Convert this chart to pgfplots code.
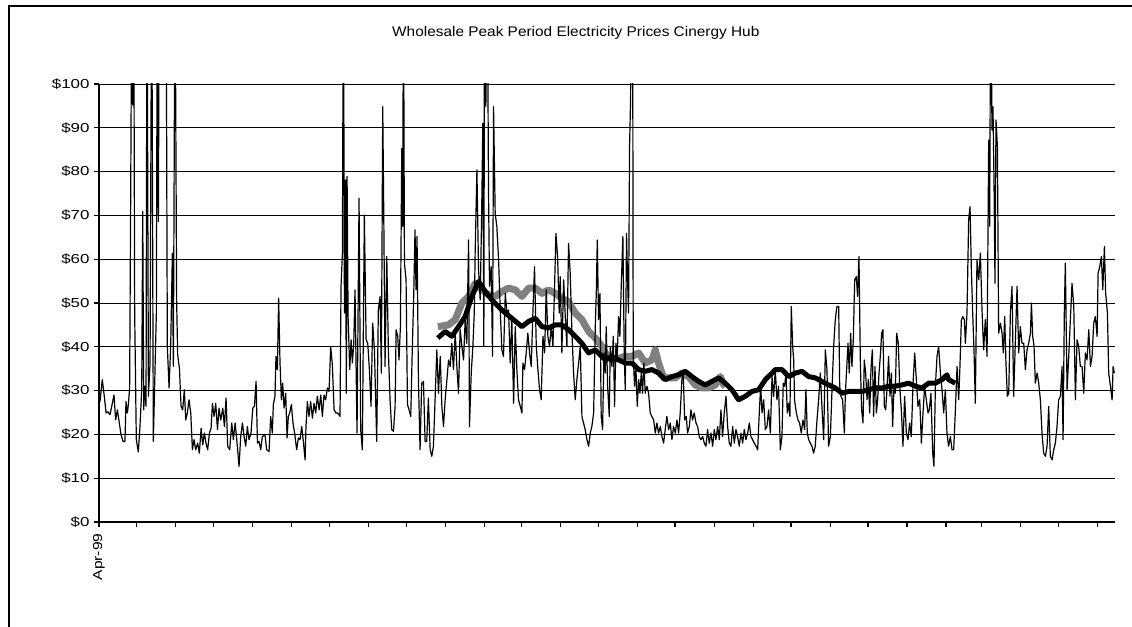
\documentclass[border=0pt]{standalone}
\usepackage{fontspec}
\setmainfont{Liberation Sans}
\usepackage{graphicx}
\usepackage{pgfplots}
\pgfplotsset{compat=1.18}
\usepackage{pgfplotstable}

% daily peak price, x = days since 1 Apr 1999 (values above 100 are off the scale)
\pgfplotstableread{
day price
0 30.5
0.8 27.5
2.6 32.5
4.2 28.7
5.6 24.9
6.9 25.2
8.7 24.5
10.6 27.1
11.9 29.0
13.2 23.3
14.6 25.6
15.9 23.0
17.5 19.9
19.1 18.4
20.6 18.4
21.4 27.5
22.5 24.9
23.3 26.8
24.3 30.6
25.1 72.0
26.1 130
26.7 95.2
27.5 130
28.3 47.7
29.6 18.8
31.2 16.0
32.5 21.8
33.9 30.2
34.7 70.9
35.5 25.6
36.2 31.0
37.3 26.4
38.1 130
39.2 28.7
40.5 36.3
41.8 130
43.1 18.4
44.5 35.5
45.5 47.7
46.3 130
47.1 68.6
47.9 130
49.7 130
51.1 130
53.2 130
54.2 40.1
55.6 30.6
56.9 40.5
58.2 61.4
59.0 35.5
60.3 130
61.6 50.3
62.4 38.2
63.8 35.1
65.1 26.4
66.4 25.6
67.7 30.2
68.8 23.3
70.1 24.9
71.4 27.9
72.8 24.9
74.1 16.5
75.4 18.8
76.7 16.5
78.3 18.0
79.6 15.7
81.0 21.4
82.3 17.6
83.6 20.3
84.9 18.0
86.2 16.5
87.6 20.3
88.9 21.4
90.0 27.1
91.3 24.1
92.6 27.1
94.0 21.1
95.2 26.0
96.6 23.3
98.2 26.0
99.5 21.8
100.8 28.3
102.1 17.3
103.7 16.5
105.3 22.6
106.6 18.8
108.0 22.6
109.3 18.8
111.1 12.7
112.4 19.5
113.8 22.6
115.1 19.5
116.4 17.3
117.7 21.8
119.0 18.8
120.6 20.3
122.0 26.0
123.3 26.4
124.6 32.1
125.7 18.0
127.0 18.4
128.3 16.5
129.6 19.5
131.7 19.9
133.0 16.5
134.9 16.1
136.2 24.1
137.5 20.3
138.3 26.8
139.6 28.7
140.4 37.8
141.5 34.8
142.5 51.1
143.6 36.3
144.7 27.9
145.7 31.7
146.8 26.0
148.1 29.4
149.2 19.2
150.2 24.1
151.3 24.9
152.6 26.8
153.9 22.6
155.2 20.3
156.8 16.5
158.2 19.2
159.5 18.8
160.8 21.8
162.1 18.4
163.5 14.2
164.2 21.8
165.3 27.5
166.6 24.1
167.9 27.5
169.3 23.7
170.6 27.1
171.9 24.9
173.2 28.7
174.6 25.6
175.9 29.0
177.2 24.1
178.5 29.0
179.8 27.9
181.2 30.6
182.5 29.8
183.8 40.1
185.1 35.9
186.5 25.6
188.0 24.9
189.4 24.9
191.2 24.1
192.0 53.8
193.1 61.4
193.9 130
194.7 47.7
195.5 78.1
196.2 29.4
196.8 78.9
197.6 46.9
198.9 34.8
200.0 41.6
201.0 36.3
202.1 40.8
203.1 53.0
204.7 20.3
206.3 73.9
207.6 21.1
208.9 16.5
210.5 70.1
211.9 41.6
213.2 40.8
214.5 34.8
215.8 26.4
217.1 45.4
218.5 39.3
220.3 18.4
221.6 48.4
223.0 51.5
224.0 34.0
225.1 94.8
225.9 70.5
226.9 35.5
228.3 60.6
229.6 38.6
230.9 27.9
232.2 21.1
233.6 20.7
234.9 26.4
235.7 43.9
237.0 42.4
238.0 37.0
239.1 44.6
240.2 85.3
241.0 67.5
241.5 130
242.3 59.1
243.6 55.3
244.7 26.8
246.0 25.6
247.3 24.1
248.4 37.8
249.7 52.2
250.7 66.7
251.5 53.0
252.3 65.2
253.4 32.5
254.7 16.5
256.0 31.7
257.4 32.1
258.7 18.4
260.0 18.4
261.3 28.3
262.7 16.5
264.0 15.0
265.3 17.3
268.0 39.3
269.3 29.4
270.7 37.8
272.0 26.4
273.3 21.8
274.6 27.9
276.0 32.5
277.3 37.0
278.6 35.5
279.9 40.8
281.2 34.8
282.6 43.1
283.9 35.5
285.2 29.4
286.5 43.9
287.9 40.1
289.2 37.0
290.5 46.2
291.8 40.8
293.2 64.4
293.9 21.8
295.3 34.0
296.6 40.1
297.7 47.7
298.4 61.4
299.8 80.4
301.1 57.6
302.4 50.7
303.5 69.0
304.5 91.0
305.3 40.1
305.9 130
306.9 94.8
308.0 130
309.0 75.8
309.8 53.8
311.1 58.3
312.2 37.8
313.0 94.8
314.3 70.5
315.6 67.5
317.0 59.8
318.3 48.4
319.6 39.3
320.9 37.8
322.3 52.2
323.6 47.7
324.9 48.4
326.2 36.3
327.5 46.2
328.9 27.1
330.2 44.6
331.5 34.8
332.8 27.9
334.2 26.4
335.5 24.9
336.3 36.3
337.6 34.8
338.9 38.6
340.2 43.1
341.6 38.6
342.9 35.5
344.2 47.7
345.5 58.3
346.9 40.1
348.2 34.8
349.5 30.2
350.8 27.9
352.2 42.4
353.5 38.6
354.8 53.0
356.1 42.4
357.4 40.1
358.8 44.6
360.1 40.1
361.4 53.8
362.5 65.9
363.8 60.6
365.1 47.7
365.9 56.0
367.2 38.6
368.6 55.3
369.9 46.9
371.2 40.1
372.5 63.6
373.8 56.8
375.2 43.1
376.5 34.0
377.8 27.9
379.1 32.5
380.5 36.3
381.8 40.1
383.1 24.1
384.4 22.6
385.7 21.1
387.1 18.8
388.4 17.3
389.7 20.3
391.0 21.8
392.4 24.9
393.7 44.6
394.5 52.2
395.3 64.4
396.3 46.2
397.4 52.2
398.4 24.1
399.5 21.1
400.6 38.6
401.6 34.0
402.4 44.6
403.5 31.0
404.8 24.1
405.6 40.1
406.9 35.5
408.0 42.4
409.0 26.4
410.1 40.8
411.1 37.8
412.2 46.9
413.2 42.4
414.3 53.8
415.6 65.2
416.7 37.8
417.5 30.2
418.5 65.9
419.3 55.3
420.1 47.7
420.9 85.7
421.7 96.3
422.5 130
423.3 130
423.8 37.8
424.9 31.0
425.9 35.5
427.0 26.4
428.1 32.5
429.1 29.4
430.2 34.0
431.2 29.4
432.3 36.3
433.3 29.4
434.7 31.0
436.0 29.4
437.3 24.9
438.6 24.1
440.0 23.3
441.3 20.3
442.6 22.6
443.9 20.3
445.3 21.8
446.6 19.5
447.9 18.0
449.2 21.1
450.5 24.1
451.9 21.1
453.2 22.6
454.5 18.8
455.8 21.8
457.2 20.3
458.5 23.3
459.8 20.3
461.1 24.9
462.4 32.5
463.5 34.0
464.6 23.3
465.9 24.1
466.9 20.3
468.3 21.8
469.6 25.6
470.9 23.3
472.2 24.9
473.6 22.6
474.9 21.8
476.2 19.5
477.5 18.8
478.9 19.5
480.2 18.0
481.5 17.3
482.8 21.1
484.1 18.0
485.5 20.3
486.8 17.3
488.1 21.1
489.4 18.8
490.8 21.8
492.1 18.8
493.4 25.6
494.7 19.5
496.0 24.9
497.4 28.7
498.7 21.8
500.0 18.0
501.3 17.3
502.7 21.8
504.0 18.0
505.3 21.1
506.6 19.5
507.9 17.3
509.3 20.3
510.6 18.0
511.9 21.1
513.2 18.8
514.6 20.3
515.9 22.6
517.2 19.5
518.5 18.8
519.9 18.0
521.2 17.3
522.5 16.5
523.8 24.9
524.9 31.0
526.0 24.9
527.3 27.9
528.6 21.1
529.9 21.8
531.2 25.6
532.6 20.3
533.9 33.2
535.2 28.7
536.5 34.8
537.8 27.9
539.1 31.0
540.5 16.5
541.8 19.5
542.8 31.7
543.9 31.0
545.0 34.0
546.0 24.9
547.1 27.1
548.1 24.1
549.2 49.2
550.3 40.1
551.1 37.0
551.8 27.9
553.2 24.9
554.5 23.3
555.8 22.6
557.1 20.3
558.5 23.3
559.8 21.1
560.8 30.2
561.9 20.3
563.0 18.8
564.3 18.0
565.6 17.3
566.9 15.7
568.2 17.3
569.6 23.3
570.9 27.9
572.2 34.0
573.5 26.4
574.9 18.8
576.2 39.3
577.5 34.8
578.8 17.3
580.2 19.5
581.5 30.2
582.8 40.1
584.1 46.2
585.4 49.2
586.8 49.2
587.6 31.0
588.6 28.7
589.9 27.9
591.3 20.3
592.1 29.4
593.1 34.8
594.2 40.8
595.2 34.0
596.3 43.1
597.3 35.5
598.4 41.6
599.5 55.3
600.8 56.0
601.8 51.5
602.9 60.6
604.0 36.3
605.0 25.6
606.1 22.6
607.1 37.0
608.2 34.0
609.3 27.9
610.3 32.5
611.4 24.9
612.4 34.8
613.5 39.3
614.5 24.1
615.6 35.5
616.7 24.9
617.7 27.9
618.8 34.0
619.8 37.8
620.9 43.1
621.9 43.9
623.0 26.4
624.1 25.6
625.1 30.2
626.4 37.8
627.5 28.7
628.6 34.0
629.6 21.8
630.7 31.0
631.7 29.4
632.8 43.1
634.1 40.8
635.2 31.0
636.5 25.6
637.8 17.3
639.1 28.7
640.5 20.3
641.8 18.8
643.1 22.6
644.4 19.5
645.8 31.7
647.1 38.6
648.4 32.5
649.7 26.4
651.1 27.9
652.4 18.0
653.7 24.9
655.0 31.0
656.3 27.9
657.7 24.9
658.7 25.6
660.0 29.4
661.4 15.7
662.4 12.7
663.5 31.0
664.8 37.8
666.1 40.1
667.5 34.0
668.8 30.2
670.1 24.9
671.4 30.2
672.7 20.3
674.0 17.3
675.4 19.5
676.7 16.5
678.0 16.5
679.3 24.9
680.7 35.5
682.0 27.9
683.0 35.5
684.1 46.0
685.2 46.9
686.5 46.2
687.3 40.8
688.6 47.7
689.9 69.0
691.0 72.0
692.0 58.3
693.1 47.7
694.2 38.6
695.2 27.1
696.5 59.8
697.9 55.3
699.2 61.4
700.5 48.4
701.8 39.3
703.1 46.2
704.5 37.8
705.8 87.2
706.6 67.5
707.4 130
708.4 89.5
709.2 94.8
710.0 78.1
710.8 54.5
711.6 91.8
712.7 85.7
713.7 43.1
715.1 45.4
716.4 43.1
717.4 38.6
718.5 46.9
719.5 36.3
720.6 28.7
721.7 29.4
723.0 47.7
724.3 53.8
725.6 28.7
727.0 41.6
728.3 53.8
729.6 38.6
730.9 44.6
732.2 40.8
733.6 40.8
734.9 34.8
736.2 39.3
737.5 40.8
738.9 43.1
739.7 50.0
740.7 42.4
741.8 40.1
742.8 31.7
744.2 34.0
745.5 31.7
746.8 27.9
748.1 20.3
749.4 15.7
750.8 15.0
752.1 17.3
753.4 26.4
754.7 15.0
756.1 14.2
757.4 16.5
758.7 18.0
760.0 21.8
761.3 27.9
762.7 28.7
764.0 35.5
764.8 18.8
765.8 47.7
766.6 59.1
768.0 30.2
769.3 37.8
770.6 46.2
771.9 54.5
773.3 49.2
774.6 27.9
775.9 41.6
777.2 40.1
778.5 35.5
779.9 35.5
781.2 29.4
782.5 38.6
783.8 37.0
785.2 43.9
786.5 35.5
787.8 37.8
789.1 45.4
790.4 46.9
791.8 42.4
792.6 56.8
793.9 58.3
795.2 60.6
796.3 53.0
797.6 62.9
798.6 52.2
800.0 47.7
801.0 34.0
802.4 31.0
803.7 27.9
804.5 35.5
805.5 34.0
}\daily

% black average
\pgfplotstableread{
day price
268.8 42.0
274.6 43.5
279.9 42.4
285.2 44.6
290.5 46.9
295.8 51.5
301.1 54.9
306.4 52.6
311.7 50.7
319.6 48.4
327.5 46.5
335.5 44.6
340.8 45.8
346.1 46.5
351.4 44.6
356.6 44.3
361.9 45.0
367.2 45.0
372.5 43.9
377.8 42.4
383.1 40.8
388.4 38.6
393.7 39.3
399.0 37.8
401.6 37.0
406.9 37.8
412.2 37.0
417.5 36.3
422.8 36.3
428.1 34.8
433.3 34.4
438.6 34.8
443.9 34.0
449.2 32.5
454.5 33.2
459.8 33.6
465.1 34.4
470.4 33.2
475.7 32.1
481.0 31.3
486.3 32.1
491.5 32.9
496.8 31.7
502.1 30.2
507.4 27.9
512.7 28.7
518.0 29.8
523.3 30.2
528.6 32.5
533.9 34.0
536.5 34.8
541.8 34.8
547.1 33.2
552.4 34.0
557.7 34.4
563.0 33.2
568.2 32.9
573.5 32.1
578.8 31.3
584.1 30.6
589.4 29.4
594.7 29.8
600.0 29.8
605.3 29.8
610.6 30.2
615.9 30.6
621.2 30.6
626.4 31.0
631.7 31.0
637.0 31.3
642.3 31.7
647.6 31.0
652.9 30.6
658.2 31.7
663.5 31.7
668.8 32.5
672.7 33.6
674.0 32.5
679.3 31.7
}\avgblack

% grey average
\pgfplotstableread{
day price
268.8 44.6
277.3 45.0
282.6 46.2
287.9 50.0
293.2 51.5
298.4 54.5
303.7 53.0
309.0 51.9
314.3 51.5
319.6 52.6
324.9 53.4
330.2 53.0
335.5 51.5
340.8 53.4
346.1 53.4
351.4 52.2
356.6 53.0
361.9 52.2
367.2 51.1
372.5 50.3
377.8 47.7
383.1 46.2
388.4 43.5
393.7 42.0
399.0 40.1
401.6 38.6
406.9 37.0
412.2 37.4
417.5 37.8
422.8 37.8
428.1 38.6
433.3 36.3
438.6 37.0
441.3 39.3
443.9 36.3
447.9 32.9
451.9 32.9
457.2 32.9
462.4 34.0
467.7 33.2
473.0 31.3
478.3 30.6
483.6 30.6
488.9 31.3
492.9 33.2
495.5 31.3
496.8 31.0
}\avggrey

\begin{document}
\begin{tikzpicture}
\useasboundingbox (0,0) rectangle (1132bp,627bp);
\fill[white] (0,0) rectangle (1132bp,627bp);
\draw[line width=1.5bp] (9bp,-10bp) -- (9bp,621bp) -- (1145bp,621bp);
\node[anchor=base west, inner sep=0pt, font=\fontsize{14bp}{16bp}\selectfont]
  at (392bp,590bp) {\scalebox{1.1}[1]{Wholesale Peak Period Electricity Prices Cinergy Hub}};
\begin{axis}[
  at={(99bp,105bp)}, anchor=south west,
  scale only axis, width=1016bp, height=438bp,
  xmin=0, xmax=806, ymin=0, ymax=100,
  axis x line*=bottom, axis y line*=left,
  axis line style={line width=1.6bp},
  tick align=outside, major tick length=5bp,
  tick style={black, line width=1.2bp},
  ytick={0,10,...,100},
  ymajorgrids, grid style={black, line width=0.8bp},
  yticklabel style={font=\fontsize{13bp}{15bp}\selectfont, xshift=-1bp},
  yticklabel={\pgfmathtruncatemacro{\v}{\tick}\scalebox{1.3}[1]{\$\v}},
  xtick={0,30,61,91,122,153,183,214,244,275,306,335,366,396,427,457,488,519,549,580,610,641,672,700,731,761,792},
  xticklabels={\scalebox{1.2}[1]{Apr-99},,,,,,,,,,,,,,,,,,,,,,,,,,},
  xticklabel style={rotate=90, anchor=east, font=\fontsize{13bp}{15bp}\selectfont, xshift=-3bp},
]
\addplot[color=gray, line width=7bp, line join=round] table[x=day, y=price] {\avggrey};
\addplot[color=black, line width=1.2bp, line join=round] table[x=day, y=price] {\daily};
\addplot[color=black, line width=5bp, line join=round] table[x=day, y=price] {\avgblack};
\end{axis}
\end{tikzpicture}
\end{document}
